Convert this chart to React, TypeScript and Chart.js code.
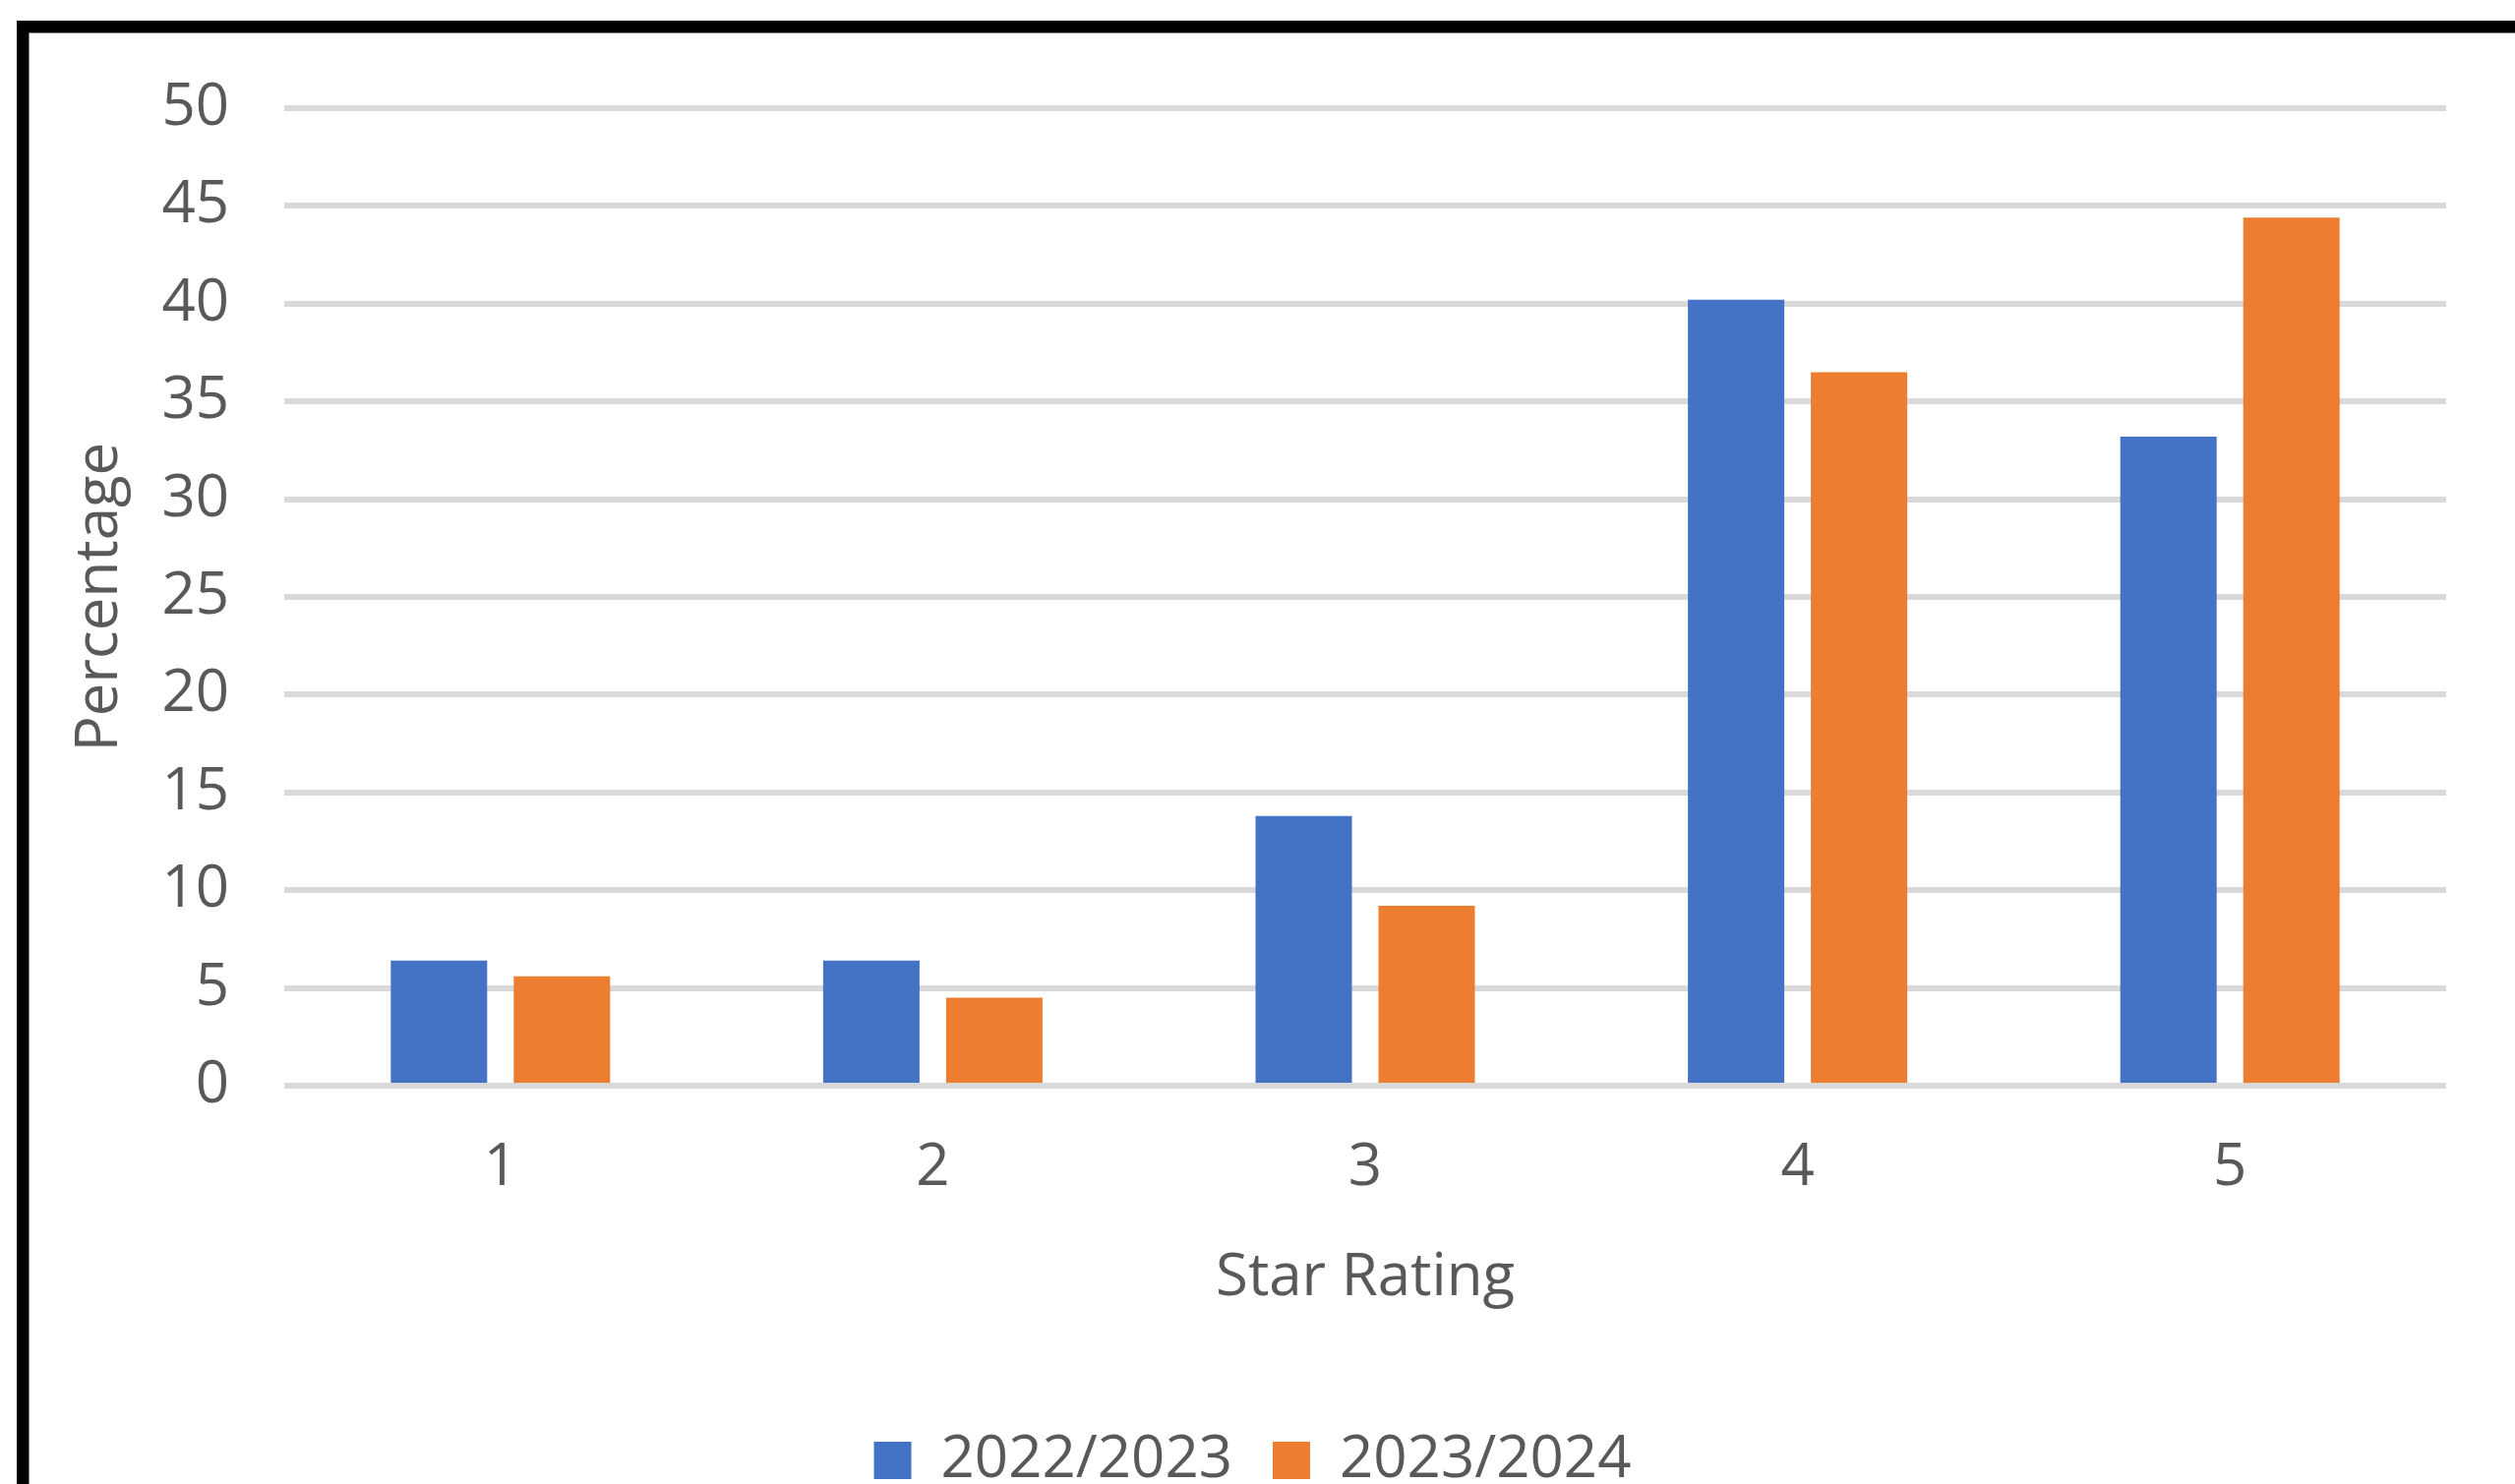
import React, { useEffect, useRef } from "react";
import { Chart, registerables } from "chart.js";

Chart.register(...registerables);

const categories = ["1", "2", "3", "4", "5"];
const seriesNames = ["2022/2023", "2023/2024"];
const values2022 = [6.4, 6.4, 13.8, 40.2, 33.2];
const values2023 = [5.6, 4.5, 9.2, 36.5, 44.4];
const seriesColors = ["#4472C4", "#ED7D31"];
const yMin = 0;
const yMax = 50;
const yStep = 5;
const xTitle = "Star Rating";
const yTitle = "Percentage";

const textColor = "#595959";
const font = { family: '"Open Sans", "Noto Sans", sans-serif', size: 60, weight: "normal" as const };

export default function App() {
  const canvasRef = useRef<HTMLCanvasElement | null>(null);

  useEffect(() => {
    document.documentElement.style.overflow = "hidden";
    document.body.style.overflow = "hidden";
    const canvas = canvasRef.current;
    if (!canvas) return;
    const chart = new Chart(canvas, {
      type: "bar",
      data: {
        labels: categories,
        datasets: [
          {
            label: seriesNames[0],
            data: values2022,
            backgroundColor: seriesColors[0],
            borderWidth: 0,
            categoryPercentage: 0.5687,
            barPercentage: 0.784,
          },
          {
            label: seriesNames[1],
            data: values2023,
            backgroundColor: seriesColors[1],
            borderWidth: 0,
            categoryPercentage: 0.5687,
            barPercentage: 0.784,
          },
        ],
      },
      options: {
        animation: false,
        responsive: true,
        maintainAspectRatio: false,
        layout: { padding: { left: 30, right: 58, top: 76, bottom: 0 } },
        plugins: {
          legend: {
            position: "bottom",
            labels: {
              boxWidth: 38,
              boxHeight: 38,
              padding: 41,
              color: textColor,
              font,
            },
          },
          tooltip: { enabled: false },
        },
        scales: {
          x: {
            grid: { display: false, drawTicks: false },
            border: { display: false },
            ticks: { color: textColor, font, padding: 48 },
            title: {
              display: true,
              text: xTitle,
              color: textColor,
              font,
              padding: { top: 0, bottom: 78 },
            },
            afterFit: (s: any) => {
              s.height = 310;
            },
          },
          y: {
            min: yMin,
            max: yMax,
            ticks: { stepSize: yStep, color: textColor, font, padding: 2 },
            grid: {
              color: "#D9D9D9",
              lineWidth: 6,
              drawTicks: true,
              tickLength: 54,
              tickColor: "rgba(0,0,0,0)",
            },
            border: { display: false },
            title: {
              display: true,
              text: yTitle,
              color: textColor,
              font,
              padding: { top: 6, bottom: 0 },
            },
            afterFit: (s: any) => {
              s.width = 229;
            },
          },
        },
      },
    });
    const fonts: any = (document as any).fonts;
    if (fonts && fonts.load) {
      fonts.load('60px "Open Sans"').then(() => chart.update()).catch(() => {});
    }
    return () => chart.destroy();
  }, []);

  return (
    <div>
      <div
        style={{
          position: "fixed",
          left: 17,
          top: 21,
          width: 2600,
          height: 1700,
          border: "12px solid #000",
          boxShadow: "inset 0 0 0 1px #808080",
          background: "#fff",
        }}
      />
      <div
        style={{
          position: "fixed",
          left: 30,
          top: 34,
          width: 2515,
          height: 1491,
        }}
      >
        <canvas ref={canvasRef} />
      </div>
    </div>
  );
}
